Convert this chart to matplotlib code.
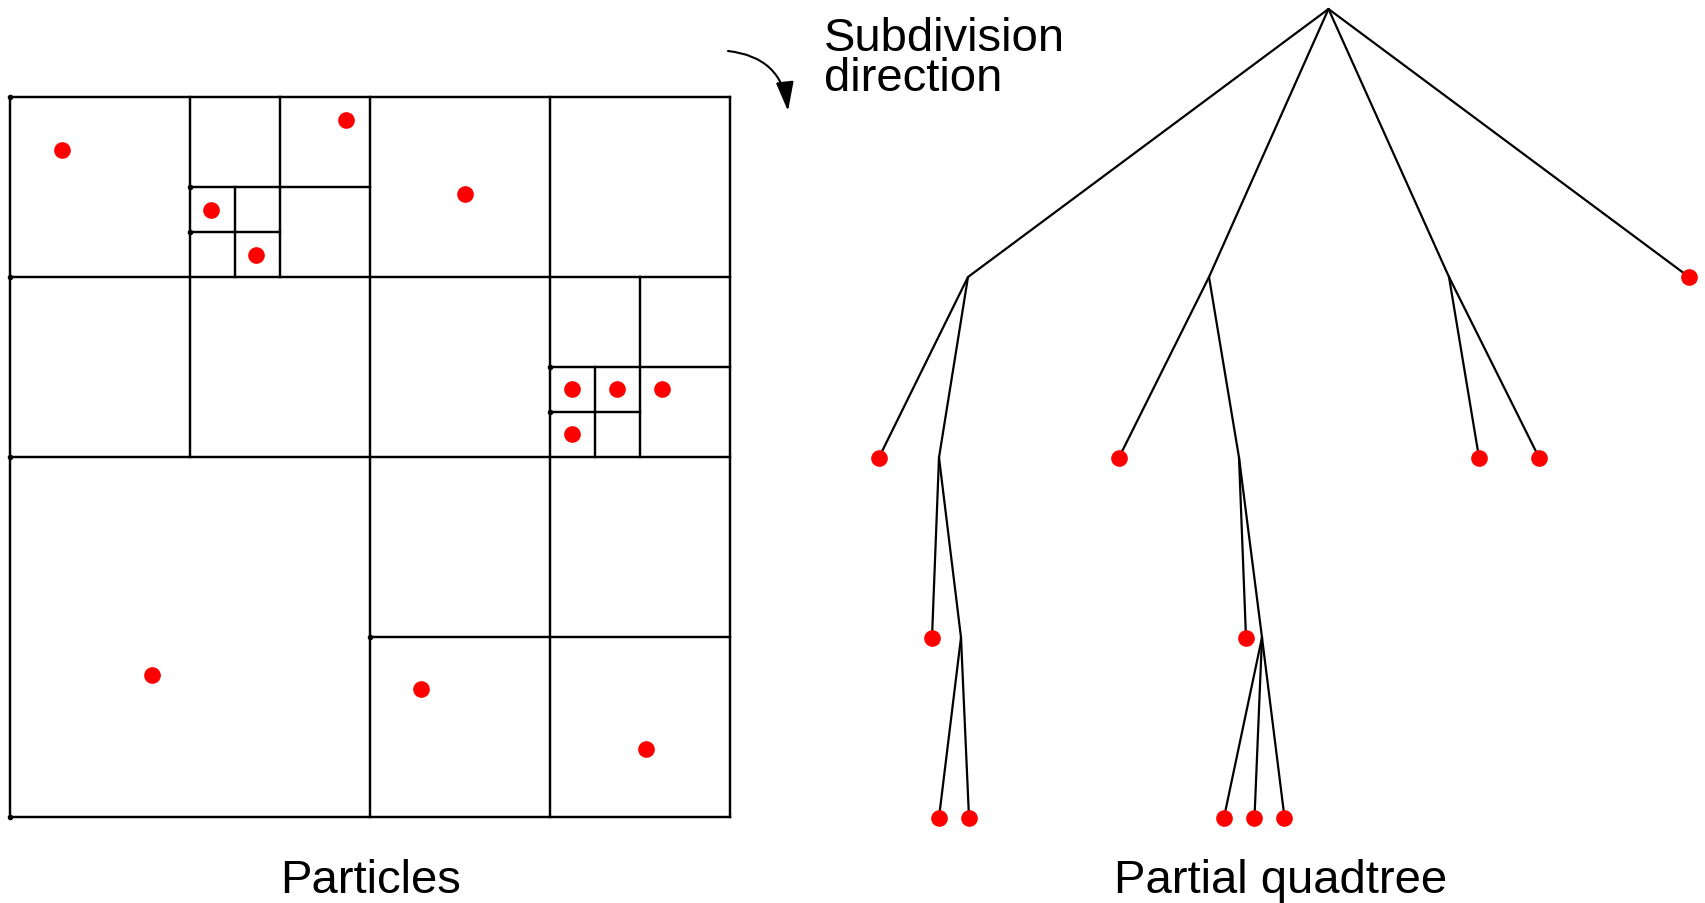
import matplotlib
matplotlib.use("Agg")
import matplotlib.pyplot as plt
from matplotlib.patches import FancyArrowPatch

plt.rcParams['font.family'] = ['Liberation Sans', 'DejaVu Sans']

W, H = 1706, 904

# ---- Quadtree cell boundaries (grid units, 0..4, y downward) ----
h_lines = [  # (y, x_start, x_end)
    (0.0, 0, 4), (4.0, 0, 4), (1.0, 0, 4), (2.0, 0, 4), (3.0, 2, 4),
    (0.5, 1, 2), (0.75, 1, 1.5), (1.5, 3, 4), (1.75, 3, 3.5),
]
v_lines = [  # (x, y_start, y_end)
    (0.0, 0, 4), (4.0, 0, 4), (1.0, 0, 2), (2.0, 0, 4), (3.0, 0, 4),
    (1.5, 0, 1), (1.25, 0.5, 1), (3.5, 1, 2), (3.25, 1.5, 2),
]

# ---- Particles (grid units) ----
part_x = [0.29, 1.87, 1.12, 1.37, 2.53, 3.125, 3.37, 3.62, 3.125, 0.79, 2.285, 3.535]
part_y = [0.295, 0.13, 0.63, 0.88, 0.54, 1.625, 1.625, 1.625, 1.875, 3.21, 3.29, 3.625]

# ---- Partial quadtree nodes (figure pixel units) ----
node_x = [1328.5, 968, 1209, 1449, 1689, 879, 939, 932, 961, 939, 969,
          1119, 1239, 1246, 1262, 1224, 1254.5, 1284.5, 1479, 1539]
node_y = [10, 278, 278, 278, 278, 458.5, 458.5, 638.5, 638.5, 818.5, 818.5,
          458.5, 458.5, 638.5, 638.5, 818.5, 818.5, 818.5, 458.5, 458.5]
node_parent = [-1, 0, 0, 0, 0, 1, 1, 6, 6, 8, 8, 2, 2, 12, 12, 14, 14, 14, 3, 3]
node_leaf = [0, 0, 0, 0, 1, 1, 0, 1, 0, 1, 1, 1, 0, 1, 0, 1, 1, 1, 1, 1]

labels = ["Particles", "Partial quadtree"]
note = "Subdivision\ndirection"

fig = plt.figure(figsize=(W / 100, H / 100), dpi=100)
fig.patch.set_facecolor('white')

# overlay axes in pixel units
ax = fig.add_axes([0, 0, 1, 1])
ax.set_xlim(0, W)
ax.set_ylim(H, 0)
ax.axis('off')

# grid axes
gx0, gy0, gx1, gy1 = 9.5, 97.5, 730.0, 818.0
gax = fig.add_axes([gx0 / W, (H - gy1) / H, (gx1 - gx0) / W, (gy1 - gy0) / H])
gax.set_xlim(0, 4)
gax.set_ylim(4, 0)
gax.axis('off')

lw = 1.75
for y, xa, xb in h_lines:
    gax.plot([xa, xb], [y, y], color='black', lw=lw, clip_on=False,
             solid_capstyle='projecting')
    gax.plot([xa], [y], 'o', color='black', ms=3, clip_on=False)
for x, ya, yb in v_lines:
    gax.plot([x, x], [ya, yb], color='black', lw=lw, clip_on=False,
             solid_capstyle='projecting')

gax.plot(part_x, part_y, 'o', color='#ff0000', ms=12, mec='none', clip_on=False, zorder=5)

# tree
for i, p in enumerate(node_parent):
    if p >= 0:
        ax.plot([node_x[p], node_x[i]], [node_y[p], node_y[i]], color='black', lw=1.6,
                solid_capstyle='round')
lx = [x for x, l in zip(node_x, node_leaf) if l]
ly = [y for y, l in zip(node_y, node_leaf) if l]
ax.plot(lx, ly, 'o', color='#ff0000', ms=12, mec='none', zorder=5)

# labels
ax.text(371, 892.7, labels[0], fontsize=34, ha='center', va='baseline')
ax.text(1280.5, 892.7, labels[1], fontsize=34, ha='center', va='baseline')
ax.text(824, 90.7, note, fontsize=34, ha='left', va='baseline',
        linespacing=0.86, multialignment='left')

arrow = FancyArrowPatch((728, 52), (788, 112), connectionstyle='arc3,rad=-0.4',
                        arrowstyle='-|>,head_length=1.8,head_width=0.55',
                        mutation_scale=10, color='black', lw=1.5,
                        shrinkA=0, shrinkB=0)
ax.add_patch(arrow)

fig.savefig('out.png', dpi=100, facecolor='white')
